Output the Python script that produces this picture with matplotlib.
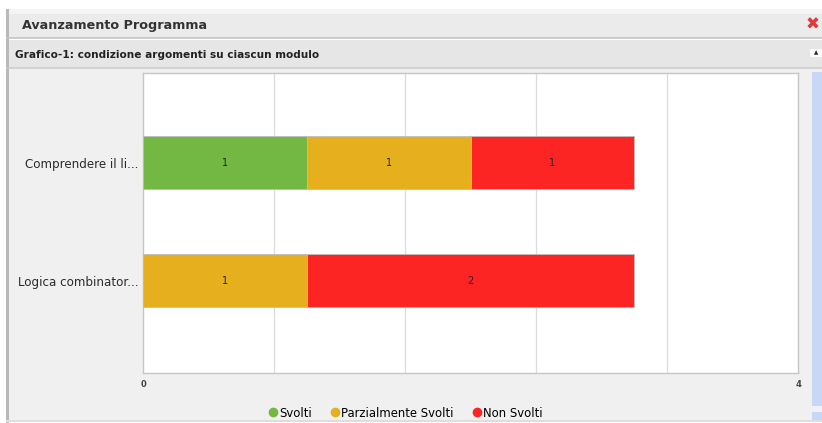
import numpy as np
import matplotlib.pyplot as plt
from matplotlib.patches import Rectangle
from matplotlib.lines import Line2D

plt.rcParams["font.family"] = ["DejaVu Sans"]

W, H = 822, 423

# dati del grafico
moduli = ["Comprendere il li...", "Logica combinator..."]
svolti = [1, 0]
parziali = [1, 1]
non_svolti = [1, 2]
serie = ["Svolti", "Parzialmente Svolti", "Non Svolti"]
colori = ["#72b843", "#e5af1e", "#fd2424"]
x_max = 4


def px(x0, y0, x1, y1):
    """rettangolo in pixel (origine in alto a sinistra) -> coordinate figura"""
    return (x0 / W, 1 - y1 / H), (x1 - x0) / W, (y1 - y0) / H


def box(fig, x0, y0, x1, y1, color, **kw):
    xy, w, h = px(x0, y0, x1, y1)
    fig.patches.append(Rectangle(xy, w, h, transform=fig.transFigure,
                                 facecolor=color, edgecolor="none",
                                 zorder=-2, **kw))


def hline(fig, y, x0, x1, color, lw=1.0):
    fig.lines.append(Line2D([x0 / W, x1 / W], [1 - y / H, 1 - y / H],
                            transform=fig.transFigure, color=color, lw=lw,
                            zorder=-1))


fig = plt.figure(figsize=(W / 100, H / 100), dpi=100)
fig.patch.set_facecolor("white")

# ── finestra ──
box(fig, 7, 9, W, 38, "#ebebeb")
box(fig, 7, 9, W, 14, "#f4f4f4")
hline(fig, 38.5, 7, W, "#c4c4c4", 1.2)
box(fig, 7, 40, W, 67, "#e6e6e6")
hline(fig, 68, 7, W, "#c8c8c8", 1.2)
box(fig, 7, 69, W, 420, "#f0f0f0")
box(fig, 6, 9, 9, 423, "#b9b9b9")
hline(fig, 421, 7, W, "#dedede", 1.5)

fig.text(22 / W, 1 - 25 / H, "Avanzamento Programma", fontsize=9.2,
         fontweight="bold", color="#333333", va="center")
fig.text(813 / W, 1 - 25 / H, "✖", fontsize=12, color="#e03a3a",
         va="center", ha="center")
fig.text(15 / W, 1 - 55 / H, "Grafico-1: condizione argomenti su ciascun modulo",
         fontsize=7.6, fontweight="bold", color="#222222", va="center")

# pulsante e barra di scorrimento
box(fig, 810, 49, W, 57, "#fafafa")
fig.text(816 / W, 1 - 53 / H, "▲", fontsize=4, color="#222222",
         va="center", ha="center")
box(fig, 812, 72, W, 406, "#c9d7f7")
box(fig, 812, 406, W, 412, "#eef1f8")
box(fig, 812, 412, W, 420, "#c9d7f7")

# ── area del grafico ──
(ax_l, ax_b), ax_w, ax_h = px(143, 73, 798, 373)
ax = fig.add_axes([ax_l, ax_b, ax_w, ax_h])
ax.set_zorder(2)
ax.set_facecolor("white")

y = np.arange(len(moduli))
h = 0.45
left = np.zeros(len(moduli))
for nome, valori, col in zip(serie, [svolti, parziali, non_svolti], colori):
    valori = np.array(valori)
    ax.barh(y, valori, left=left, height=h, color=col, label=nome,
            edgecolor="#bdbdbd", linewidth=0.6, zorder=3)
    for yi, l, v in zip(y, left, valori):
        if v > 0:
            ax.text(l + v / 2, yi, str(v), ha="center", va="center",
                    fontsize=7, color="#222222", zorder=4)
    left = left + valori

ax.set_xlim(0, x_max)
ax.set_ylim(1.78, -0.76)
ax.set_xticks(np.linspace(0, x_max, 6), minor=True)
ax.set_xticks([0, x_max])
ax.set_xticklabels(["0", "4"], fontsize=6, fontweight="bold", color="#444444")
ax.grid(True, which="minor", axis="x", color="#dcdcdc", linewidth=0.9, zorder=0)
ax.tick_params(axis="x", which="both", length=0, pad=5)
ax.set_yticks(y)
ax.set_yticklabels(moduli, fontsize=8.6, color="#2a2a2a")
ax.tick_params(axis="y", length=0, pad=3)
for s in ax.spines.values():
    s.set_color("#c6c6c6")
    s.set_linewidth(1.0)

handles = [Line2D([], [], marker="o", ls="none", color=c, markersize=6)
           for c in colori]
fig.legend(handles, serie, loc="center", bbox_to_anchor=(405 / W, 1 - 413 / H),
           ncol=3, frameon=False, fontsize=8.4, handletextpad=0.0,
           columnspacing=1.5, borderaxespad=0, handlelength=1.0)

fig.savefig("out.png", dpi=100)
